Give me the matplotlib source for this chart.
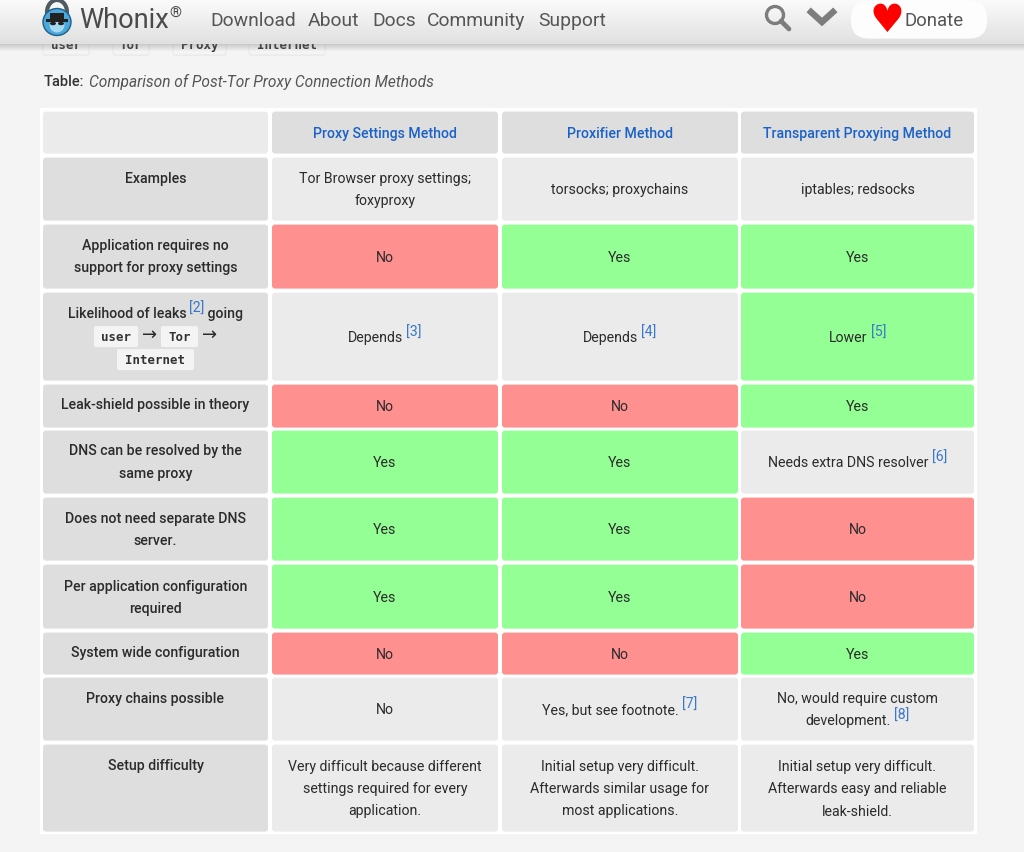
import re
import numpy as np
import matplotlib
matplotlib.use("Agg")
import matplotlib.pyplot as plt
from matplotlib.patches import FancyBboxPatch, Circle, Rectangle, Ellipse

plt.rcParams['font.family'] = ['Roboto', 'DejaVu Sans']

# table content
methods = ['Proxy Settings Method', 'Proxifier Method', 'Transparent Proxying Method']
row_labels = [
    ['Examples'],
    ['Application requires no', 'support for proxy settings'],
    ['Likelihood of leaks ^[2] going'],
    ['Leak-shield possible in theory'],
    ['DNS can be resolved by the', 'same proxy'],
    ['Does not need separate DNS', 'server.'],
    ['Per application configuration', 'required'],
    ['System wide configuration'],
    ['Proxy chains possible'],
    ['Setup difficulty'],
]
proxy_settings = [
    ['Tor Browser proxy settings;', 'foxyproxy'], ['No'], ['Depends ^[3]'], ['No'], ['Yes'],
    ['Yes'], ['Yes'], ['No'], ['No'],
    ['Very difficult because different', 'settings required for every', 'application.'],
]
proxifier = [
    ['torsocks; proxychains'], ['Yes'], ['Depends ^[4]'], ['No'], ['Yes'],
    ['Yes'], ['Yes'], ['No'], ['Yes, but see footnote. ^[7]'],
    ['Initial setup very difficult.', 'Afterwards similar usage for', 'most applications.'],
]
transparent = [
    ['iptables; redsocks'], ['Yes'], ['Lower ^[5]'], ['Yes'], ['Needs extra DNS resolver ^[6]'],
    ['No'], ['No'], ['Yes'], ['No, would require custom', 'development. ^[8]'],
    ['Initial setup very difficult.', 'Afterwards easy and reliable', 'leak-shield.'],
]
# g = green, r = red, n = neutral
proxy_settings_state = ['n', 'r', 'n', 'r', 'g', 'g', 'g', 'r', 'n', 'n']
proxifier_state = ['n', 'g', 'n', 'r', 'g', 'g', 'g', 'r', 'n', 'n']
transparent_state = ['n', 'g', 'g', 'g', 'n', 'r', 'r', 'g', 'n', 'n']
nav_items = ['Download', 'About', 'Docs', 'Community', 'Support']
path_chips = ['user', 'Tor', 'Proxy', 'Internet']

# layout, in reference pixels
col_edges = [(43, 268), (272, 498), (502, 738), (741, 974)]
header_edge = (112, 154)
row_edges = [(158, 221), (225, 289), (293, 381), (385, 428), (431, 494),
             (498, 561), (565, 629), (633, 675), (678, 741), (745, 832)]
label_top = {0: 178.5, 1: 245.5, 3: 405.5, 4: 451.5, 5: 518.5, 6: 586.5, 7: 653.5, 8: 698.5, 9: 766.5}
nav_x = [210, 308, 372, 427, 538]
chip_boxes = [(43, 89), (113, 149), (173, 226), (249, 325)]

GREEN, RED = '#94ff94', '#ff9090'
GREY, LIGHT = '#dedede', '#ebebeb'
FILLS = {'g': GREEN, 'r': RED, 'n': LIGHT}
DARK = '#2b2b2b'
LINE_H = 22.3
FS = 10.2

fig = plt.figure(figsize=(10.24, 8.53), dpi=100, facecolor='#f5f4f5')
ax = fig.add_axes([0, 0, 1, 1])
ax.set_xlim(0, 1024)
ax.set_ylim(853, 0)
ax.axis('off')


def box(x0, x1, y0, y1, color, r=3, z=2, ec='none', lw=0):
    ax.add_patch(FancyBboxPatch((x0 + r, y0 + r + 0.6), x1 - x0 - 2 * r, y1 - y0 - 2 * r,
                                boxstyle=f'round,pad={r},rounding_size={r}',
                                fc=color, ec=ec, lw=lw, zorder=z))


def rich_line(cx, cy, line, weight='normal', color=DARK):
    # lay out a line with "^[n]" superscript references, centred on cx
    parts = [p for p in re.split(r'(\^\[\d+\])', line) if p]
    r = fig.canvas.get_renderer()
    items = []
    for p in parts:
        sup = p.startswith('^')
        s = p[1:] if sup else p
        t = ax.text(0, cy + 4 - (5 if sup else 0), s.rstrip() if not sup else s, fontsize=FS,
                    ha='left', va='baseline',
                    color='#3a78c8' if sup else color, weight='normal' if sup else weight,
                    zorder=5)
        w = t.get_window_extent(r).width
        if s.endswith(' '):
            w += 3
        items.append((t, w))
    x = cx - sum(w for _, w in items) / 2
    for t, w in items:
        t.set_x(x)
        x += w


def cell_text(cx, cy, lines, **kw):
    top = cy - LINE_H * (len(lines) - 1) / 2
    for i, line in enumerate(lines):
        rich_line(cx, top + i * LINE_H, line, **kw)


def code_chip(x0, x1, cy, label, fc='#f5f4f5', ec='none', z=4):
    box(x0, x1, cy - 10.5, cy + 10.5, fc, r=2, z=z, ec=ec, lw=0.6 if ec != 'none' else 0)
    ax.text((x0 + x1) / 2, cy, label, family='DejaVu Sans Mono', weight='bold',
            fontsize=9, ha='center', va='center', color='#333333', zorder=z + 1)


# chips scrolled under the top bar
for (x0, x1), label in zip(chip_boxes, path_chips):
    code_chip(x0, x1, 45, label, ec='#e4e4e4', z=2)

# caption
ax.text(44, 82, 'Table:', fontsize=FS + 0.3, weight='medium', color='#333333', va='center', zorder=3)
ax.text(89, 82, 'Comparison of Post-Tor Proxy Connection Methods', fontsize=11.2, style='italic',
        color='#555555', va='center', zorder=3)

# table
ax.add_patch(Rectangle((40, 109), 937, 726, fc='white', ec='none', zorder=1))
box(col_edges[0][0], col_edges[0][1], header_edge[0], header_edge[1], LIGHT)
for (x0, x1), name in zip(col_edges[1:], methods):
    box(x0, x1, header_edge[0], header_edge[1], GREY)
    ax.text((x0 + x1) / 2, 138, name, fontsize=FS, weight='medium', color='#1a62c8',
            ha='center', va='baseline', zorder=5)

columns = [proxy_settings, proxifier, transparent]
states = [proxy_settings_state, proxifier_state, transparent_state]
for i, (y0, y1) in enumerate(row_edges):
    x0, x1 = col_edges[0]
    box(x0, x1, y0, y1, GREY)
    cx = (x0 + x1) / 2
    if i == 2:
        # this label carries inline code chips
        rich_line(cx, 313.5, row_labels[i][0], weight='medium')
        code_chip(94, 138, 337, 'user')
        ax.text(150, 335, '→', fontsize=13, ha='center', va='center', color=DARK,
                family='DejaVu Sans', zorder=5)
        code_chip(161, 198, 337, 'Tor')
        ax.text(210, 335, '→', fontsize=13, ha='center', va='center', color=DARK,
                family='DejaVu Sans', zorder=5)
        code_chip(117, 194, 360, 'Internet')
    else:
        top = label_top[i]
        for j, line in enumerate(row_labels[i]):
            rich_line(cx, top + j * LINE_H, line, weight='medium')
    for (cx0, cx1), col, st in zip(col_edges[1:], columns, states):
        box(cx0, cx1, y0, y1, FILLS[st[i]])
        cell_text((cx0 + cx1) / 2, (y0 + y1) / 2 + 0.7, col[i])

# top bar with soft gradient and shadow
grad = np.linspace(0, 1, 46)[:, None]
bar = np.dstack([0.985 - 0.105 * grad] * 3)
ax.imshow(bar, extent=(0, 1024, 45, 0), aspect='auto', zorder=8)
shadow = np.zeros((8, 1, 4))
shadow[..., :3] = 0.5
shadow[:, 0, 3] = np.linspace(0.35, 0, 8)
ax.imshow(shadow, extent=(0, 1024, 53, 45), aspect='auto', zorder=8)
ax.set_xlim(0, 1024)
ax.set_ylim(853, 0)

# logo
ax.add_patch(Ellipse((57, 13), 20, 24, fc='none', ec='#4f5b62', lw=3, zorder=9))
ax.add_patch(Ellipse((57, 23), 28, 27, fc='#4aa7dc', ec='#1f5f86', lw=1, zorder=10))
ax.add_patch(Ellipse((57, 26), 15, 15, fc='#a5d9f2', ec='none', zorder=11))
ax.add_patch(Rectangle((50, 14), 14, 7, fc='#222222', zorder=12))
ax.add_patch(Rectangle((46, 20), 22, 2.5, fc='#222222', zorder=12))
ax.add_patch(Ellipse((53, 24.5), 6, 3.5, fc='#222222', zorder=12))
ax.add_patch(Ellipse((61, 24.5), 6, 3.5, fc='#222222', zorder=12))

ax.text(79, 20, 'Whonix', fontsize=19.6, color='#4a4a4a', va='center', zorder=10)
ax.text(169, 14, '®', fontsize=11, color='#4a4a4a', va='center', zorder=10)
for x, label in zip(nav_x, nav_items):
    ax.text(x, 26, label, fontsize=13.9, color='#555555', va='baseline', zorder=10)

# search, chevron, donate
ax.add_patch(Circle((775, 16), 8.5, fc='none', ec='#7d7d7d', lw=2.4, zorder=10))
ax.plot([781, 789], [22, 30], color='#7d7d7d', lw=3.4, solid_capstyle='round', zorder=10)
ax.plot([811, 822, 833], [13, 23, 13], color='#7d7d7d', lw=4.6, solid_joinstyle='miter', zorder=10)
box(851, 987, 1, 39, '#fdfdfd', r=18, z=9)
ax.text(887, 21, '♥', family='DejaVu Sans', fontsize=28, color='#ff0000', ha='center',
        va='center', zorder=10)
ax.text(905, 26, 'Donate', fontsize=13.4, color='#555555', va='baseline', zorder=10)

fig.savefig('out.png', dpi=100)
